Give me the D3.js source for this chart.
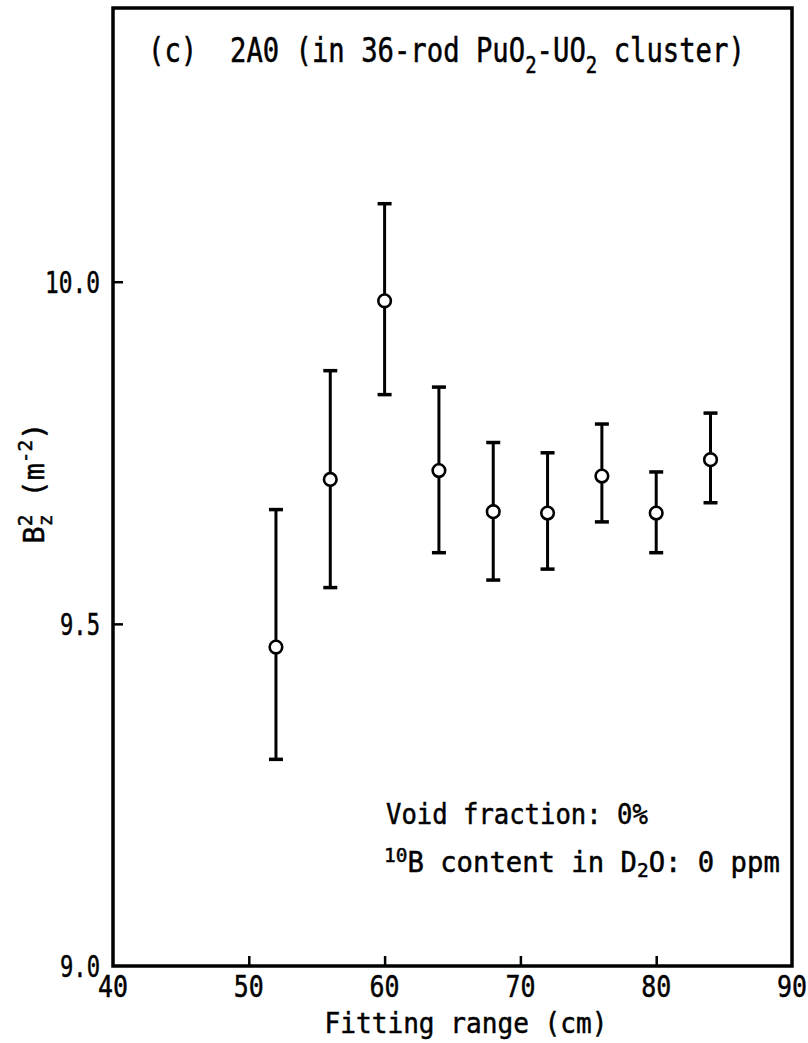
<!DOCTYPE html>
<html>
<head>
<meta charset="utf-8">
<script src="https://cdn.jsdelivr.net/npm/d3@7"></script>
<style>
  html, body { margin: 0; padding: 0; background: #fff; }
  svg { display: block; }
  text { font-family: "DejaVu Sans Mono", "Liberation Mono", monospace; fill: #000; stroke: #000; stroke-width: 0.5px; }
</style>
</head>
<body>
<svg id="chart" width="808" height="1043"></svg>
<script>
// ---- data ----
const fittingRange = [52, 56, 60, 64, 68, 72, 76, 80, 84];           // cm
const bz2          = [9.466, 9.711, 9.972, 9.724, 9.664, 9.662, 9.716, 9.662, 9.740];
const bz2Upper     = [9.667, 9.870, 10.114, 9.846, 9.765, 9.750, 9.792, 9.722, 9.808];
const bz2Lower     = [9.302, 9.553, 9.835, 9.604, 9.564, 9.580, 9.649, 9.604, 9.677];
const xTicks = [40, 50, 60, 70, 80, 90];
const yTicks = [9.0, 9.5, 10.0];
const yTickLabels = ["9.0", "9.5", "10.0"];

// ---- layout ----
const svg = d3.select("#chart");
const L = 113, R = 792, T = 8, B = 966;
const x = d3.scaleLinear().domain([40, 90]).range([L, R]);
const y = d3.scaleLinear().domain([9.0, 10.4]).range([B, T]);

// helper: horizontally squeezed text group
function label(x0, y0, size, anchor, target, build, rotate) {
  const g = svg.append("g");
  const t = g.append("text").attr("font-size", size).attr("text-anchor", anchor);
  build(t);
  const w = g.node().getBBox().width;
  const s = w > 0 ? target / w : 1;
  g.attr("transform", `translate(${x0},${y0})` + (rotate ? ` rotate(${rotate})` : "") + ` scale(${s},1)`);
  return g;
}

// ---- frame ----
svg.append("rect").attr("x", L).attr("y", T).attr("width", R - L).attr("height", B - T)
  .attr("fill", "none").attr("stroke", "#000").attr("stroke-width", 3.5);

// ---- axes (ticks inward) ----
const xAxis = d3.axisTop(x).tickValues(xTicks.filter(v => v > 40 && v < 90)).tickSize(10).tickFormat("");
svg.append("g").attr("transform", `translate(0,${B})`).call(xAxis)
  .call(g => g.select(".domain").remove())
  .call(g => g.selectAll("line").attr("stroke", "#000").attr("stroke-width", 2.5));

const yAxis = d3.axisRight(y).tickValues(yTicks.filter(v => v > 9.0)).tickSize(10).tickFormat("");
svg.append("g").attr("transform", `translate(${L},0)`).call(yAxis)
  .call(g => g.select(".domain").remove())
  .call(g => g.selectAll("line").attr("stroke", "#000").attr("stroke-width", 2.5));

// tick labels
xTicks.forEach(v => {
  label(x(v), 997, 31, "middle", 30, t => t.text(String(v)));
});
yTicks.forEach((v, i) => {
  const s = yTickLabels[i];
  label(100, y(v) + 11, 31, "end", s.length === 4 ? 55 : 40, t => t.text(s));
});

// ---- error bars and points ----
const gData = svg.append("g");
fittingRange.forEach((fr, i) => {
  const cx = x(fr);
  gData.append("line").attr("x1", cx).attr("x2", cx)
    .attr("y1", y(bz2Upper[i])).attr("y2", y(bz2Lower[i]))
    .attr("stroke", "#000").attr("stroke-width", 3);
  [bz2Upper[i], bz2Lower[i]].forEach(v => {
    gData.append("line").attr("x1", cx - 7).attr("x2", cx + 7)
      .attr("y1", y(v)).attr("y2", y(v))
      .attr("stroke", "#000").attr("stroke-width", 3.5);
  });
});
gData.selectAll("circle").data(fittingRange).join("circle")
  .attr("cx", d => x(d)).attr("cy", (d, i) => y(bz2[i]))
  .attr("r", 6.3).attr("fill", "#fff").attr("stroke", "#000").attr("stroke-width", 2.6);

// ---- title ----
label(148, 62, 33, "start", 597, t => {
  t.append("tspan").text("(c)\u00a0\u00a02A0 (in 36-rod PuO");
  t.append("tspan").attr("font-size", 23).attr("dy", 11).text("2");
  t.append("tspan").attr("dy", -11).text("-UO");
  t.append("tspan").attr("font-size", 23).attr("dy", 11).text("2");
  t.append("tspan").attr("dy", -11).text(" cluster)");
});

// ---- axis titles ----
label(466, 1033, 28, "middle", 283, t => t.text("Fitting range (cm)"));

label(44, 483, 29, "middle", 121, t => {
  t.append("tspan").text("B");
  t.append("tspan").attr("font-size", 20).attr("dy", -12).text("2");
  t.append("tspan").attr("font-size", 20).attr("dx", -12).attr("dy", 20).text("z");
  t.append("tspan").attr("dy", -8).text(" (m");
  t.append("tspan").attr("font-size", 20).attr("dy", -12).text("-2");
  t.append("tspan").attr("dy", 12).text(")");
}, -90);

// ---- annotations ----
label(386, 824, 28, "start", 262, t => t.text("Void fraction: 0%"));
label(384, 872, 28, "start", 396, t => {
  t.append("tspan").attr("font-size", 20).attr("dy", -10).text("10");
  t.append("tspan").attr("dy", 10).text("B content in D");
  t.append("tspan").attr("font-size", 20).attr("dy", 5).text("2");
  t.append("tspan").attr("dy", -5).text("O: 0 ppm");
});
</script>
</body>
</html>
